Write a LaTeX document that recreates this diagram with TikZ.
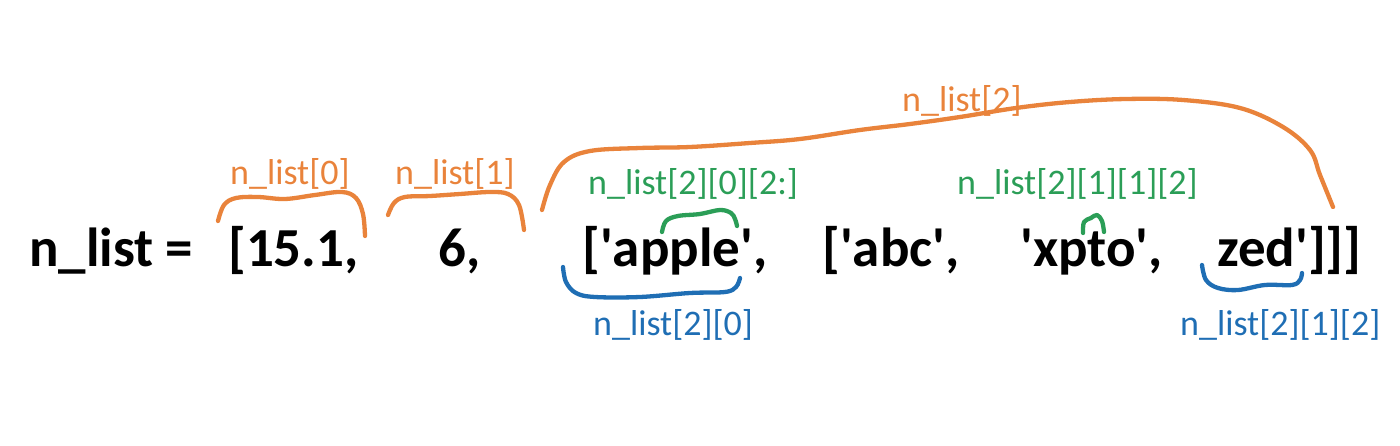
\documentclass[tikz,border=0pt]{standalone}
\usepackage{fontspec}
\setmainfont{Carlito}
\definecolor{bOrange}{HTML}{E9833B}
\definecolor{bGreen}{HTML}{2B9E57}
\definecolor{bBlue}{HTML}{1F6EB4}
\newcommand{\sq}{\textquotesingle}
\tikzset{
  code/.style={anchor=base west, inner sep=0pt, font=\fontsize{55}{60}\selectfont\bfseries, text=black},
  lbl/.style={anchor=base west, inner sep=0pt, font=\fontsize{36}{40}\selectfont},
  brace/.style={line width=4.3pt, line cap=round, line join=round},
}
\begin{document}
\begin{tikzpicture}[x=1pt,y=-1pt]
\useasboundingbox (0,0) rectangle (1400,446);
% code text
\node[code] (t0) at (29,267) {n\_list =};
\node[code] (t1) at (228,267) {[15.1,};
\node[code] (t2) at (438,267) {6,};
\node[code] (t3) at (582,267) {[\sq apple\sq,};
\node[code] (t4) at (822,267) {[\sq abc\sq,};
\node[code] (t5) at (1020,267) {\sq xpto\sq,};
\node[code] (t6) at (1217,267) {zed\sq]]]};
% labels
\node[lbl, text=bOrange] (l0) at (230,185) {n\_list[0]};
\node[lbl, text=bOrange] (l1) at (395,185) {n\_list[1]};
\node[lbl, text=bOrange] (l2) at (902,112) {n\_list[2]};
\node[lbl, text=bGreen] (l3) at (588,195) {n\_list[2][0][2:]};
\node[lbl, text=bGreen] (l4) at (957,195) {n\_list[2][1][1][2]};
\node[lbl, text=bBlue] (l5) at (593,335) {n\_list[2][0]};
\node[lbl, text=bBlue] (l6) at (1180,335) {n\_list[2][1][2]};
% orange braces
\draw[brace, bOrange] plot[smooth, tension=0.6] coordinates
  {(218,221) (224,205) (236,198) (258,197) (285,199) (315,195) (342,192) (356,198) (363,214) (365,236)};
\draw[brace, bOrange] plot[smooth, tension=0.6] coordinates
  {(388,215) (394,203) (405,197) (430,196) (460,194) (490,192) (508,194) (519,205) (524,230)};
\draw[brace, bOrange] plot[smooth, tension=0.6] coordinates
  {(542,210) (550,185) (564,162) (590,151) (640,148) (690,147) (750,143) (800,139) (860,130) (910,124) (960,117) (1016,108) (1070,102) (1126,99) (1183,100) (1240,108) (1283,127) (1310,150) (1320,175) (1333,207)};
% green braces
\draw[brace, bGreen] plot[smooth, tension=0.6] coordinates
  {(662,232) (666,221) (678,216) (700,214) (720,210) (731,213) (735,219) (737,226)};
\draw[brace, bGreen] plot[smooth, tension=0.6] coordinates
  {(1083,233) (1084,222) (1091,218) (1097,215) (1102,221) (1104,232)};
% blue braces
\draw[brace, bBlue] plot[smooth, tension=0.6] coordinates
  {(563,267) (566,282) (576,293) (595,297) (640,297) (690,293) (725,292) (736,287) (740,278)};
\draw[brace, bBlue] plot[smooth, tension=0.6] coordinates
  {(1202,265) (1206,280) (1218,288) (1238,290) (1265,285) (1292,285) (1300,280) (1302,273)};
\end{tikzpicture}
\end{document}
